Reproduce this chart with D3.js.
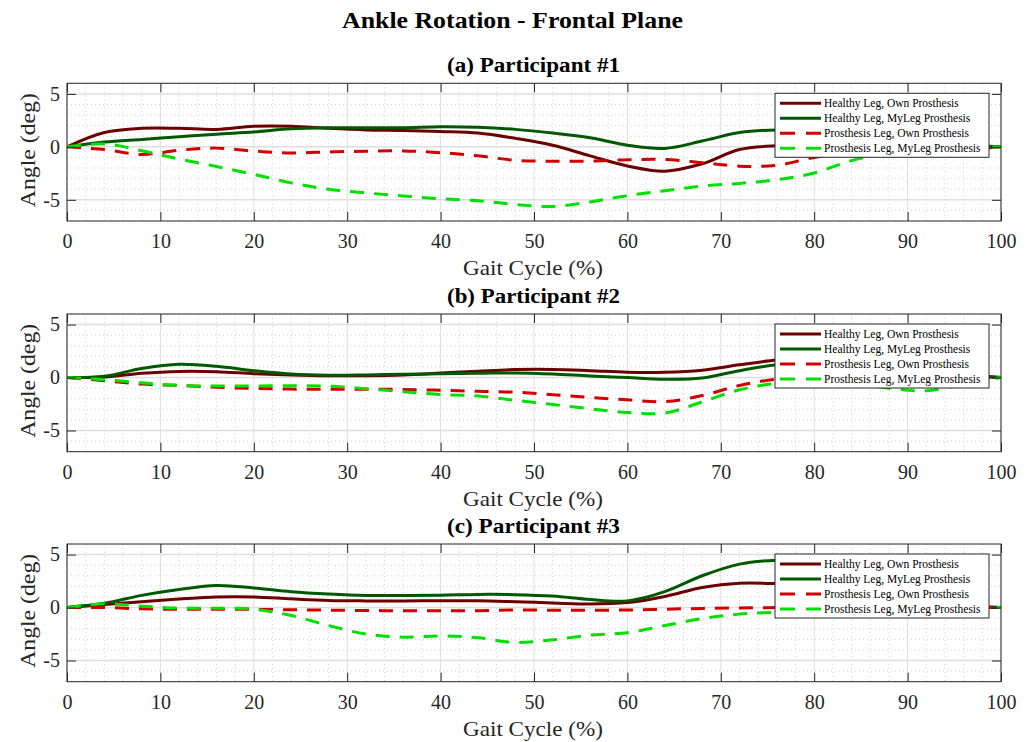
<!DOCTYPE html>
<html>
<head>
<meta charset="utf-8">
<script src="https://cdn.jsdelivr.net/npm/d3@7"></script>
<style>
  html, body { margin: 0; padding: 0; background: #fff; }
  svg { display: block; }
  text { font-family: "Liberation Serif", "Times New Roman", serif; }
</style>
</head>
<body>
<svg id="chart" width="1030" height="742"></svg>
<script>
// ---------------- DATA ----------------
const gaitCycle = [0, 4, 8, 12, 16, 20, 24, 28, 32, 36, 40, 44, 48, 52, 56, 60, 64, 68, 72, 76, 80, 84, 88, 92, 96, 100];

const seriesNames = [
  "Healthy Leg, Own Prosthesis",
  "Healthy Leg, MyLeg Prosthesis",
  "Prosthesis Leg, Own Prosthesis",
  "Prosthesis Leg, MyLeg Prosthesis"
];

const panelTitles = ["(a) Participant #1", "(b) Participant #2", "(c) Participant #3"];
const xTicks = [0, 10, 20, 30, 40, 50, 60, 70, 80, 90, 100];
const yTicks = [-5, 0, 5];
const yDomain = [-7, 6];

// Participant 1
const p1HealthyOwn   = [0, 1.35, 1.75, 1.75, 1.65, 1.95, 1.95, 1.75, 1.6, 1.55, 1.45, 1.3, 0.8, 0.15, -0.85, -1.8, -2.3, -1.6, -0.25, 0.1, 0.1, 0.1, 0.0, -0.1, -0.2, 0];
const p1HealthyMyLeg = [0, 0.45, 0.7, 0.95, 1.2, 1.4, 1.7, 1.8, 1.8, 1.8, 1.9, 1.85, 1.65, 1.3, 0.85, 0.15, -0.15, 0.55, 1.35, 1.6, 1.5, 1.2, 0.8, 0.5, 0.2, 0];
const p1ProsOwn      = [0, -0.25, -0.72, -0.32, -0.12, -0.4, -0.57, -0.48, -0.41, -0.38, -0.55, -0.85, -1.27, -1.36, -1.35, -1.22, -1.2, -1.5, -1.82, -1.74, -1.0, -0.6, -0.4, -0.3, -0.3, 0];
const p1ProsMyLeg    = [0, 0.28, -0.37, -1.15, -1.85, -2.6, -3.4, -4.0, -4.35, -4.63, -4.9, -5.08, -5.44, -5.63, -5.2, -4.6, -4.15, -3.7, -3.45, -3.1, -2.47, -1.3, -0.6, -0.3, -0.1, 0];

// Participant 2
const p2HealthyOwn   = [0, 0.05, 0.4, 0.58, 0.55, 0.37, 0.24, 0.17, 0.18, 0.25, 0.42, 0.6, 0.76, 0.77, 0.65, 0.5, 0.5, 0.7, 1.2, 1.65, 1.8, 1.6, 1.1, 0.6, 0.25, 0];
const p2HealthyMyLeg = [0, 0.12, 0.85, 1.25, 1.07, 0.65, 0.33, 0.22, 0.25, 0.32, 0.36, 0.4, 0.44, 0.34, 0.15, 0.0, -0.16, -0.05, 0.65, 1.2, 1.3, 1.0, 0.6, 0.4, 0.3, 0];
const p2ProsOwn      = [0, -0.3, -0.62, -0.74, -0.92, -1.02, -1.09, -1.1, -1.1, -1.12, -1.2, -1.3, -1.38, -1.62, -1.88, -2.1, -2.28, -1.7, -0.75, -0.15, 0.0, 0.0, -0.1, -0.2, -0.1, 0];
const p2ProsMyLeg    = [0, -0.2, -0.5, -0.74, -0.8, -0.8, -0.77, -0.82, -1.05, -1.34, -1.6, -1.75, -2.15, -2.55, -2.95, -3.3, -3.35, -2.3, -1.15, -0.55, -0.4, -0.6, -1.0, -1.25, -0.6, 0];

// Participant 3
const p3HealthyOwn   = [0, 0.28, 0.55, 0.8, 1.0, 1.0, 0.82, 0.67, 0.63, 0.63, 0.64, 0.64, 0.55, 0.44, 0.33, 0.47, 1.05, 1.9, 2.3, 2.25, 2.0, 1.5, 0.9, 0.4, 0.1, 0];
const p3HealthyMyLeg = [0, 0.4, 1.15, 1.7, 2.08, 1.85, 1.5, 1.28, 1.14, 1.14, 1.17, 1.24, 1.22, 1.08, 0.75, 0.63, 1.5, 3.0, 4.1, 4.47, 4.4, 3.5, 2.2, 1.0, 0.3, 0];
const p3ProsOwn      = [0, 0, -0.12, -0.16, -0.16, -0.17, -0.21, -0.25, -0.28, -0.3, -0.31, -0.29, -0.23, -0.25, -0.25, -0.23, -0.16, -0.08, -0.04, 0, 0.05, 0.05, 0, 0, 0, 0];
const p3ProsMyLeg    = [0, 0.37, 0.13, -0.06, -0.06, -0.15, -0.75, -1.7, -2.5, -2.8, -2.68, -2.85, -3.3, -3.05, -2.6, -2.37, -1.7, -1.05, -0.62, -0.44, -0.35, -0.25, -0.1, 0, 0, 0];

const panelSeries = [
  [p1HealthyOwn, p1HealthyMyLeg, p1ProsOwn, p1ProsMyLeg],
  [p2HealthyOwn, p2HealthyMyLeg, p2ProsOwn, p2ProsMyLeg],
  [p3HealthyOwn, p3HealthyMyLeg, p3ProsOwn, p3ProsMyLeg]
];

// ---------------- STYLE ----------------
const seriesColors = ["#6b0000", "#005800", "#d00000", "#00e000"];
const seriesDash = [null, null, "14,10", "14,10"];
const axisColor = "#262626";

const svg = d3.select("#chart");
const left = 67, right = 1001;
const panelTops = [83.3, 314, 544];
const panelH = 137.7;

svg.append("text")
  .attr("x", 512.5).attr("y", 28)
  .attr("text-anchor", "middle")
  .attr("font-size", 23).attr("font-weight", "bold").attr("fill", "#000")
  .attr("textLength", 341).attr("lengthAdjust", "spacingAndGlyphs")
  .text("Ankle Rotation - Frontal Plane");

const x = d3.scaleLinear().domain([0, 100]).range([left, right]);

panelTops.forEach((top, pi) => {
  const y = d3.scaleLinear().domain(yDomain).range([top + panelH, top]);
  const g = svg.append("g");

  // minor grid
  const minorX = d3.range(0, 101, 2).filter(v => v % 10 !== 0);
  const minorY = d3.range(yDomain[0], yDomain[1] + 1, 1).filter(v => v % 5 !== 0);
  g.selectAll(".mx").data(minorX).enter().append("line")
    .attr("x1", d => x(d)).attr("x2", d => x(d))
    .attr("y1", top).attr("y2", top + panelH)
    .attr("stroke", "#c4c4c4").attr("stroke-width", 0.8).attr("stroke-dasharray", "1,3");
  g.selectAll(".my").data(minorY).enter().append("line")
    .attr("x1", left).attr("x2", right)
    .attr("y1", d => y(d)).attr("y2", d => y(d))
    .attr("stroke", "#c4c4c4").attr("stroke-width", 0.8).attr("stroke-dasharray", "1,3");
  // major grid
  g.selectAll(".gx").data(xTicks).enter().append("line")
    .attr("x1", d => x(d)).attr("x2", d => x(d))
    .attr("y1", top).attr("y2", top + panelH)
    .attr("stroke", "#dedede").attr("stroke-width", 1);
  g.selectAll(".gy").data(yTicks).enter().append("line")
    .attr("x1", left).attr("x2", right)
    .attr("y1", d => y(d)).attr("y2", d => y(d))
    .attr("stroke", "#dedede").attr("stroke-width", 1.5);

  // lines
  const line = d3.line()
    .x((d, i) => x(gaitCycle[i]))
    .y(d => y(d))
    .curve(d3.curveCatmullRom.alpha(0.5));

  const clipId = "clip" + pi;
  svg.append("clipPath").attr("id", clipId).append("rect")
    .attr("x", left).attr("y", top).attr("width", right - left).attr("height", panelH);

  panelSeries[pi].forEach((vals, si) => {
    g.append("path")
      .attr("d", line(vals))
      .attr("fill", "none")
      .attr("clip-path", `url(#${clipId})`)
      .attr("stroke", seriesColors[si])
      .attr("stroke-width", 3)
      .attr("stroke-dasharray", seriesDash[si])
      .attr("stroke-linejoin", "round");
  });

  // axes (inward ticks, box)
  const tickLen = 9;
  const fmt = d => String(d);
  const xb = d3.axisBottom(x).tickValues(xTicks).tickSizeInner(-tickLen).tickSizeOuter(0).tickPadding(13).tickFormat(fmt);
  const xt = d3.axisTop(x).tickValues(xTicks).tickSizeInner(-tickLen).tickSizeOuter(0).tickFormat("");
  const yl = d3.axisLeft(y).tickValues(yTicks).tickSizeInner(-tickLen).tickSizeOuter(0).tickPadding(7).tickFormat(fmt);
  const yr = d3.axisRight(y).tickValues(yTicks).tickSizeInner(-tickLen).tickSizeOuter(0).tickFormat("");

  const styleAxis = sel => {
    sel.attr("font-family", null);
    sel.selectAll("path").remove();
    sel.selectAll("line").attr("stroke", axisColor).attr("stroke-width", 1);
    sel.selectAll("text").attr("fill", axisColor).attr("font-size", 20);
  };
  g.append("g").attr("transform", `translate(0,${top + panelH})`).call(xb).call(styleAxis);
  g.append("g").attr("transform", `translate(0,${top})`).call(xt).call(styleAxis);
  g.append("g").attr("transform", `translate(${left},0)`).call(yl).call(styleAxis);
  g.append("g").attr("transform", `translate(${right},0)`).call(yr).call(styleAxis);

  g.append("rect")
    .attr("x", left).attr("y", top).attr("width", right - left).attr("height", panelH)
    .attr("fill", "none").attr("stroke", axisColor).attr("stroke-width", 1);

  // titles & labels
  g.append("text")
    .attr("x", 533.5).attr("y", top - 11)
    .attr("text-anchor", "middle").attr("font-size", 20).attr("font-weight", "bold").attr("fill", "#000")
    .attr("textLength", 173).attr("lengthAdjust", "spacingAndGlyphs")
    .text(panelTitles[pi]);
  g.append("text")
    .attr("x", 533).attr("y", top + panelH + 54)
    .attr("text-anchor", "middle").attr("font-size", 22).attr("fill", axisColor)
    .attr("textLength", 140).attr("lengthAdjust", "spacingAndGlyphs")
    .text("Gait Cycle (%)");
  g.append("text")
    .attr("transform", `translate(35,${top + panelH / 2 - 2}) rotate(-90)`)
    .attr("text-anchor", "middle").attr("font-size", 22).attr("fill", axisColor)
    .attr("textLength", 114).attr("lengthAdjust", "spacingAndGlyphs")
    .text("Angle (deg)");

  // legend
  const lx = 775, ly = top + 10, lw = 214, lh = 64;
  const lg = g.append("g");
  lg.append("rect").attr("x", lx).attr("y", ly).attr("width", lw).attr("height", lh)
    .attr("fill", "#fff").attr("stroke", axisColor).attr("stroke-width", 1);
  seriesNames.forEach((name, si) => {
    const cy = ly + 10 + si * 15;
    lg.append("line")
      .attr("x1", lx + 5).attr("x2", lx + 46)
      .attr("y1", cy).attr("y2", cy)
      .attr("stroke", seriesColors[si]).attr("stroke-width", 3)
      .attr("stroke-dasharray", seriesDash[si] ? "15,11" : null);
    lg.append("text")
      .attr("x", lx + 49).attr("y", cy + 4)
      .attr("font-size", 11.5).attr("fill", "#000")
      .text(name);
  });
});
</script>
</body>
</html>
